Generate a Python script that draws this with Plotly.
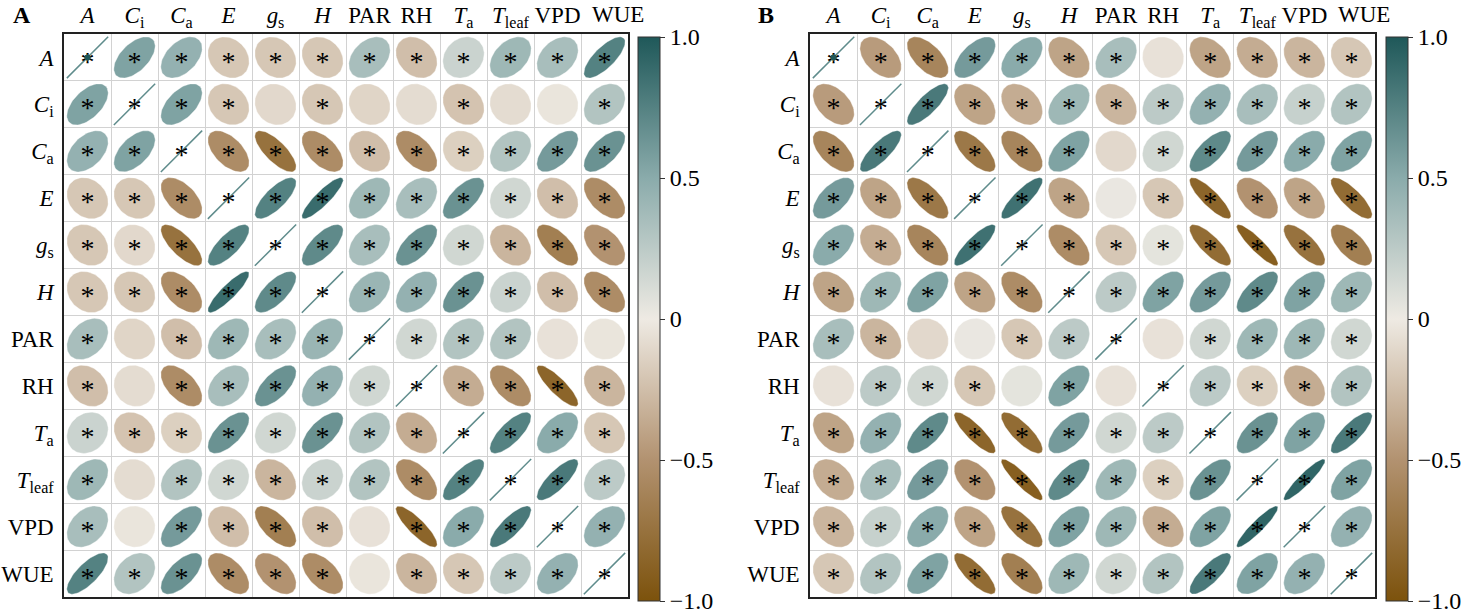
import numpy as np
import plotly.graph_objects as go

variables = ["A", "Ci", "Ca", "E", "gs", "H", "PAR", "RH", "Ta", "Tleaf", "VPD", "WUE"]
row_labels = ["<i>A</i>", "<i>C</i><sub>i</sub>", "<i>C</i><sub>a</sub>", "<i>E</i>",
              "<i>g</i><sub>s</sub>", "<i>H</i>", "PAR", "RH", "<i>T</i><sub>a</sub>",
              "<i>T</i><sub>leaf</sub>", "VPD", "WUE"]
# last column label is drawn as an annotation (set slightly to the right, as in the figure)
col_labels = row_labels[:-1] + [""]

# upper-triangle correlations (row i, columns i+1..11)
upper_A = [
    [0.55, 0.45, -0.2, -0.2, -0.2, 0.35, -0.25, 0.18, 0.4, 0.35, 0.75],
    [0.55, -0.2, -0.1, -0.2, -0.12, -0.08, -0.22, -0.08, -0.03, 0.3],
    [-0.55, -0.75, -0.55, -0.25, -0.55, -0.15, 0.3, 0.6, 0.65],
    [0.75, 0.88, 0.4, 0.35, 0.65, 0.15, -0.25, -0.55],
    [0.7, 0.35, 0.65, 0.15, -0.3, -0.65, -0.5],
    [0.42, 0.45, 0.65, 0.18, -0.25, -0.55],
    [0.15, 0.3, 0.3, -0.05, -0.03],
    [-0.35, -0.55, -0.85, -0.3],
    [0.75, 0.5, -0.2],
    [0.8, 0.25],
    [0.45],
]
upper_B = [
    [-0.45, -0.6, 0.6, 0.5, -0.4, 0.35, -0.05, -0.4, -0.35, -0.3, -0.2],
    [0.8, -0.4, -0.35, 0.4, -0.3, 0.25, 0.45, 0.35, 0.2, 0.3],
    [-0.7, -0.6, 0.55, -0.1, 0.15, 0.7, 0.6, 0.5, 0.55],
    [0.85, -0.4, 0.02, -0.2, -0.85, -0.5, -0.4, -0.8],
    [-0.55, -0.2, 0.05, -0.8, -0.9, -0.75, -0.65],
    [0.25, 0.55, 0.6, 0.7, 0.55, 0.4],
    [-0.05, 0.15, 0.4, 0.4, 0.15],
    [0.25, -0.15, -0.35, 0.3],
    [0.65, 0.55, 0.8],
    [0.92, 0.55],
    [0.45],
]
# cells (row, col) without significance asterisk
nonsig_A = [("Ci", "gs"), ("Ci", "PAR"), ("PAR", "Ci"), ("Ci", "RH"), ("RH", "Ci"),
            ("Ci", "Tleaf"), ("Tleaf", "Ci"), ("Ci", "VPD"), ("VPD", "Ci"),
            ("PAR", "VPD"), ("VPD", "PAR"), ("PAR", "WUE"), ("WUE", "PAR")]
nonsig_B = [("A", "RH"), ("RH", "A"), ("Ca", "PAR"), ("PAR", "Ca"), ("E", "PAR"), ("PAR", "E"),
            ("PAR", "RH"), ("RH", "PAR"), ("RH", "gs")]

cb_vals = [-1.0, -0.5, 0.0, 0.5, 1.0]
cb_text = ["\u22121.0", "\u22120.5", "0", "0.5", "1.0"]

stops = [(-1.0, (124, 82, 12)), (-0.5, (178, 146, 112)), (0.0, (238, 234, 227)),
         (0.5, (138, 171, 171)), (1.0, (31, 88, 89))]
colorscale = [[(v + 1) / 2, "rgb(%d,%d,%d)" % c] for v, c in stops]


def color_of(r):
    for (v0, c0), (v1, c1) in zip(stops[:-1], stops[1:]):
        if r <= v1:
            t = (r - v0) / (v1 - v0)
            c = [c0[k] + t * (c1[k] - c0[k]) for k in range(3)]
            return "rgb(%d,%d,%d)" % tuple(int(round(x)) for x in c)
    return "rgb(%d,%d,%d)" % stops[-1][1]


def full_matrix(upper):
    n = len(variables)
    m = np.eye(n)
    for i, row in enumerate(upper):
        for k, v in enumerate(row):
            j = i + 1 + k
            m[i, j] = v
            m[j, i] = v
    return m


W, H = 1468, 609


def px(x):
    return x / W


def py(y):
    return 1 - y / H


FONT = "Liberation Serif"
panels = [
    dict(name="A", upper=upper_A, nonsig=nonsig_A, x0=64, x1=628, cbx=638, letter_x=22),
    dict(name="B", upper=upper_B, nonsig=nonsig_B, x0=810, x1=1375, cbx=1386, letter_x=766),
]
y_top, y_bot = 34, 597

fig = go.Figure()
k = np.linspace(0, 2 * np.pi, 72)
s = 0.44
n = len(variables)

for p_idx, p in enumerate(panels):
    sfx = "" if p_idx == 0 else str(p_idx + 1)
    xa, ya = "x" + sfx, "y" + sfx
    M = full_matrix(p["upper"])
    nonsig = set((variables.index(a), variables.index(b)) for a, b in p["nonsig"])
    for i in range(n):
        for j in range(n):
            r = M[i, j]
            cx, cy = j + 1, i + 1
            if i == j:
                fig.add_trace(go.Scatter(x=[cx - s, cx + s], y=[cy + s, cy - s], mode="lines",
                                         line=dict(color="rgb(95,140,140)", width=1.5),
                                         xaxis=xa, yaxis=ya, hoverinfo="skip", showlegend=False))
                continue
            d = np.arccos(r)
            ex = cx + s * np.cos(k + d / 2)
            ey = cy - s * np.cos(k - d / 2)
            col = color_of(r)
            fig.add_trace(go.Scatter(x=ex, y=ey, mode="lines", fill="toself", fillcolor=col,
                                     line=dict(color="rgba(255,255,255,0.6)", width=0.6),
                                     xaxis=xa, yaxis=ya, hoverinfo="skip", showlegend=False))
    sx, sy = [], []
    for i in range(n):
        for j in range(n):
            if (i, j) not in nonsig:
                sx.append(j + 1)
                sy.append(i + 1 + 0.13)
    fig.add_trace(go.Scatter(x=sx, y=sy, mode="text", text=["*"] * len(sx),
                             textfont=dict(family=FONT, size=28, color="black"),
                             xaxis=xa, yaxis=ya, hoverinfo="skip", showlegend=False))
    # colorbar carrier
    fig.add_trace(go.Scatter(x=[1, 1], y=[1, 1], mode="markers", xaxis=xa, yaxis=ya,
                             marker=dict(size=0, color=[-1, 1], cmin=-1, cmax=1,
                                         colorscale=colorscale, showscale=True,
                                         colorbar=dict(x=px(p["cbx"]), xanchor="left",
                                                       y=py(319), yanchor="middle",
                                                       len=564 / H, lenmode="fraction",
                                                       thickness=22, outlinewidth=1,
                                                       outlinecolor="#333", xpad=0, ypad=0,
                                                       tickvals=cb_vals, ticktext=cb_text,
                                                       ticks="outside", ticklen=5,
                                                       tickcolor="#333",
                                                       ticklabeloverflow="allow",
                                                       tickfont=dict(family=FONT, size=24,
                                                                     color="black"))),
                             hoverinfo="skip", showlegend=False))
    axis_common = dict(tickvals=list(range(1, n + 1)),
                       showgrid=False, zeroline=False, ticks="", tickangle=0,
                       automargin=False,
                       showline=True, mirror=True, linecolor="#222", linewidth=1.5,
                       tickfont=dict(family=FONT, size=23, color="black"),
                       minor=dict(tick0=0.5, dtick=1, showgrid=True, gridcolor="#d2d2d2",
                                  gridwidth=1.2),
                       fixedrange=True)
    fig.update_layout(**{
        "xaxis" + sfx: dict(axis_common, ticktext=col_labels,
                            domain=[px(p["x0"]), px(p["x1"])], range=[0.5, 12.5],
                            side="top", anchor=ya, ticklabelstandoff=0),
        "yaxis" + sfx: dict(axis_common, ticktext=row_labels,
                            domain=[py(y_bot), py(y_top)],
                            range=[12.5, 0.5], anchor=xa, ticklabelstandoff=4),
    })
    fig.add_annotation(x=n, y=py(15), xref=xa, yref="paper", xanchor="center",
                       yanchor="middle", xshift=13, text=row_labels[-1], showarrow=False,
                       font=dict(family=FONT, size=23, color="black"))
    fig.add_annotation(x=px(p["letter_x"]), y=py(15), xref="paper", yref="paper",
                       xanchor="center", yanchor="middle",
                       text="<b>%s</b>" % p["name"], showarrow=False,
                       font=dict(family=FONT, size=24, color="black"))

fig.update_layout(width=W, height=H, margin=dict(l=0, r=0, t=0, b=0, autoexpand=False),
                  plot_bgcolor="white", paper_bgcolor="white")
fig.write_html("out.html", config={"displayModeBar": False},
               post_script="document.body.style.margin='0px';")
